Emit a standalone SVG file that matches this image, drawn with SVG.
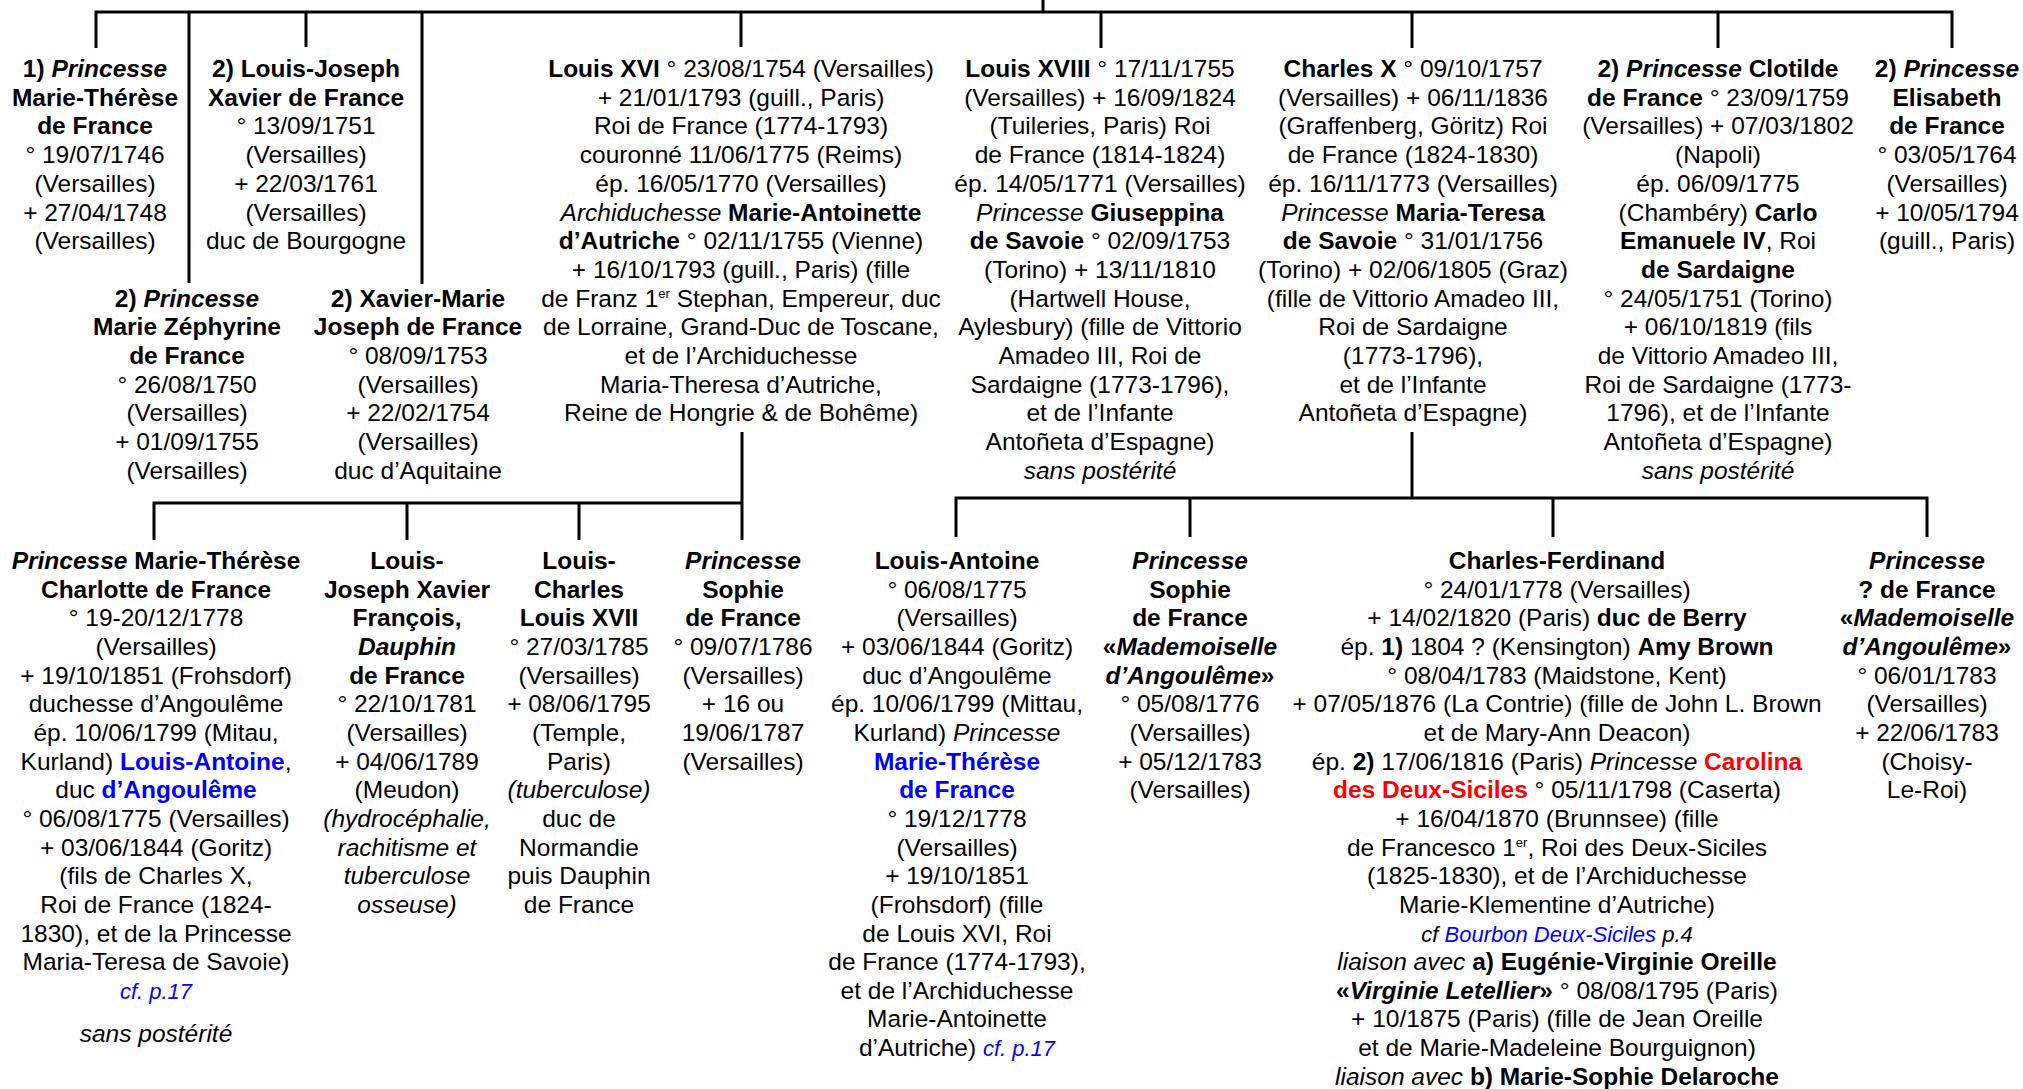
<svg xmlns="http://www.w3.org/2000/svg" width="2023" height="1089" viewBox="0 0 2023 1089">
<style>
text{font-family:"Liberation Sans",Arial,sans-serif;font-size:24.5px;text-anchor:middle;fill:#000}
.b{font-weight:bold}
.i{font-style:italic}
.bi{font-weight:bold;font-style:italic}
.blue{fill:#0000ff}
.red{fill:#ff0000}
.sm{font-size:22px}
.sup{font-size:13px}
.c path{stroke:#000;stroke-width:3;fill:none}
</style>
<rect width="2023" height="1089" fill="#fff"/>
<g id="connectors" class="c">
<path d="M1043,0V12"/>
<path d="M96,48V12H1952V48"/>
<path d="M189,12V283"/>
<path d="M306,12V47"/>
<path d="M422,12V284"/>
<path d="M741,12V47"/>
<path d="M1101,12V48"/>
<path d="M1412,12V48"/>
<path d="M1718,12V48"/>
<path d="M742,432V540"/>
<path d="M154,540V503H742"/>
<path d="M407,503V540"/>
<path d="M579,503V540"/>
<path d="M1412,432V498"/>
<path d="M956,537V498H1927V537"/>
<path d="M1190,498V537"/>
<path d="M1553,498V537"/>
</g>
<g id="n-marie-therese-1746"><text><tspan x="95" y="77"><tspan class="b">1) </tspan><tspan class="bi">Princesse</tspan></tspan><tspan x="95" y="105.7" class="b">Marie-Thérèse</tspan><tspan x="95" y="134.4" class="b">de France</tspan><tspan x="95" y="163.1">° 19/07/1746</tspan><tspan x="95" y="191.8">(Versailles)</tspan><tspan x="95" y="220.5">+ 27/04/1748</tspan><tspan x="95" y="249.2">(Versailles)</tspan></text></g>
<g id="n-louis-joseph-1751"><text><tspan x="306" y="77" class="b">2) Louis-Joseph</tspan><tspan x="306" y="105.7" class="b">Xavier de France</tspan><tspan x="306" y="134.4">° 13/09/1751</tspan><tspan x="306" y="163.1">(Versailles)</tspan><tspan x="306" y="191.8">+ 22/03/1761</tspan><tspan x="306" y="220.5">(Versailles)</tspan><tspan x="306" y="249.2">duc de Bourgogne</tspan></text></g>
<g id="n-zephyrine"><text><tspan x="187" y="306.6"><tspan class="b">2) </tspan><tspan class="bi">Princesse</tspan></tspan><tspan x="187" y="335.3" class="b">Marie Zéphyrine</tspan><tspan x="187" y="364" class="b">de France</tspan><tspan x="187" y="392.7">° 26/08/1750</tspan><tspan x="187" y="421.4">(Versailles)</tspan><tspan x="187" y="450.1">+ 01/09/1755</tspan><tspan x="187" y="478.8">(Versailles)</tspan></text></g>
<g id="n-xavier-marie"><text><tspan x="418" y="306.6" class="b">2) Xavier-Marie</tspan><tspan x="418" y="335.3" class="b">Joseph de France</tspan><tspan x="418" y="364">° 08/09/1753</tspan><tspan x="418" y="392.7">(Versailles)</tspan><tspan x="418" y="421.4">+ 22/02/1754</tspan><tspan x="418" y="450.1">(Versailles)</tspan><tspan x="418" y="478.8">duc d’Aquitaine</tspan></text></g>
<g id="n-louis-xvi"><text><tspan x="741" y="77"><tspan class="b">Louis XVI</tspan> ° 23/08/1754 (Versailles)</tspan><tspan x="741" y="105.7">+ 21/01/1793 (guill., Paris)</tspan><tspan x="741" y="134.4">Roi de France (1774-1793)</tspan><tspan x="741" y="163.1">couronné 11/06/1775 (Reims)</tspan><tspan x="741" y="191.8">ép. 16/05/1770 (Versailles)</tspan><tspan x="741" y="220.5"><tspan class="i">Archiduchesse</tspan> <tspan class="b">Marie-Antoinette</tspan></tspan><tspan x="741" y="249.2"><tspan class="b">d’Autriche</tspan> ° 02/11/1755 (Vienne)</tspan><tspan x="741" y="277.9">+ 16/10/1793 (guill., Paris) (fille</tspan><tspan x="741" y="306.6">de Franz 1<tspan class="sup" dy="-9">er</tspan><tspan dy="9"> Stephan, Empereur, duc</tspan></tspan><tspan x="741" y="335.3">de Lorraine, Grand-Duc de Toscane,</tspan><tspan x="741" y="364">et de l’Archiduchesse</tspan><tspan x="741" y="392.7">Maria-Theresa d’Autriche,</tspan><tspan x="741" y="421.4">Reine de Hongrie &amp; de Bohême)</tspan></text></g>
<g id="n-louis-xviii"><text><tspan x="1100" y="77"><tspan class="b">Louis XVIII</tspan> ° 17/11/1755</tspan><tspan x="1100" y="105.7">(Versailles) + 16/09/1824</tspan><tspan x="1100" y="134.4">(Tuileries, Paris) Roi</tspan><tspan x="1100" y="163.1">de France (1814-1824)</tspan><tspan x="1100" y="191.8">ép. 14/05/1771 (Versailles)</tspan><tspan x="1100" y="220.5"><tspan class="i">Princesse</tspan> <tspan class="b">Giuseppina</tspan></tspan><tspan x="1100" y="249.2"><tspan class="b">de Savoie</tspan> ° 02/09/1753</tspan><tspan x="1100" y="277.9">(Torino) + 13/11/1810</tspan><tspan x="1100" y="306.6">(Hartwell House,</tspan><tspan x="1100" y="335.3">Aylesbury) (fille de Vittorio</tspan><tspan x="1100" y="364">Amadeo III, Roi de</tspan><tspan x="1100" y="392.7">Sardaigne (1773-1796),</tspan><tspan x="1100" y="421.4">et de l’Infante</tspan><tspan x="1100" y="450.1">Antoñeta d’Espagne)</tspan><tspan x="1100" y="478.8" class="i">sans postérité</tspan></text></g>
<g id="n-charles-x"><text><tspan x="1413" y="77"><tspan class="b">Charles X</tspan> ° 09/10/1757</tspan><tspan x="1413" y="105.7">(Versailles) + 06/11/1836</tspan><tspan x="1413" y="134.4">(Graffenberg, Göritz) Roi</tspan><tspan x="1413" y="163.1">de France (1824-1830)</tspan><tspan x="1413" y="191.8">ép. 16/11/1773 (Versailles)</tspan><tspan x="1413" y="220.5"><tspan class="i">Princesse</tspan> <tspan class="b">Maria-Teresa</tspan></tspan><tspan x="1413" y="249.2"><tspan class="b">de Savoie</tspan> ° 31/01/1756</tspan><tspan x="1413" y="277.9">(Torino) + 02/06/1805 (Graz)</tspan><tspan x="1413" y="306.6">(fille de Vittorio Amadeo III,</tspan><tspan x="1413" y="335.3">Roi de Sardaigne</tspan><tspan x="1413" y="364">(1773-1796),</tspan><tspan x="1413" y="392.7">et de l’Infante</tspan><tspan x="1413" y="421.4">Antoñeta d’Espagne)</tspan></text></g>
<g id="n-clotilde"><text><tspan x="1718" y="77"><tspan class="b">2) </tspan><tspan class="bi">Princesse</tspan><tspan class="b"> Clotilde</tspan></tspan><tspan x="1718" y="105.7"><tspan class="b">de France</tspan> ° 23/09/1759</tspan><tspan x="1718" y="134.4">(Versailles) + 07/03/1802</tspan><tspan x="1718" y="163.1">(Napoli)</tspan><tspan x="1718" y="191.8">ép. 06/09/1775</tspan><tspan x="1718" y="220.5">(Chambéry) <tspan class="b">Carlo</tspan></tspan><tspan x="1718" y="249.2"><tspan class="b">Emanuele IV</tspan>, Roi</tspan><tspan x="1718" y="277.9" class="b">de Sardaigne</tspan><tspan x="1718" y="306.6">° 24/05/1751 (Torino)</tspan><tspan x="1718" y="335.3">+ 06/10/1819 (fils</tspan><tspan x="1718" y="364">de Vittorio Amadeo III,</tspan><tspan x="1718" y="392.7">Roi de Sardaigne (1773-</tspan><tspan x="1718" y="421.4">1796), et de l’Infante</tspan><tspan x="1718" y="450.1">Antoñeta d’Espagne)</tspan><tspan x="1718" y="478.8" class="i">sans postérité</tspan></text></g>
<g id="n-elisabeth"><text><tspan x="1947" y="77"><tspan class="b">2) </tspan><tspan class="bi">Princesse</tspan></tspan><tspan x="1947" y="105.7" class="b">Elisabeth</tspan><tspan x="1947" y="134.4" class="b">de France</tspan><tspan x="1947" y="163.1">° 03/05/1764</tspan><tspan x="1947" y="191.8">(Versailles)</tspan><tspan x="1947" y="220.5">+ 10/05/1794</tspan><tspan x="1947" y="249.2">(guill., Paris)</tspan></text></g>
<g id="n-marie-therese-charlotte"><text><tspan x="156" y="569"><tspan class="bi">Princesse</tspan> <tspan class="b">Marie-Thérèse</tspan></tspan><tspan x="156" y="597.7" class="b">Charlotte de France</tspan><tspan x="156" y="626.3">° 19-20/12/1778</tspan><tspan x="156" y="655">(Versailles)</tspan><tspan x="156" y="683.6">+ 19/10/1851 (Frohsdorf)</tspan><tspan x="156" y="712.3">duchesse d’Angoulême</tspan><tspan x="156" y="740.9">ép. 10/06/1799 (Mitau,</tspan><tspan x="156" y="769.6">Kurland) <tspan class="b blue">Louis-Antoine</tspan>,</tspan><tspan x="156" y="798.2">duc <tspan class="b blue">d’Angoulême</tspan></tspan><tspan x="156" y="826.9">° 06/08/1775 (Versailles)</tspan><tspan x="156" y="855.5">+ 03/06/1844 (Goritz)</tspan><tspan x="156" y="884.2">(fils de Charles X,</tspan><tspan x="156" y="912.8">Roi de France (1824-</tspan><tspan x="156" y="941.5">1830), et de la Princesse</tspan><tspan x="156" y="970.1">Maria-Teresa de Savoie)</tspan><tspan x="156" y="998.8" class="i sm blue">cf. p.17</tspan><tspan x="156" y="1042" class="i">sans postérité</tspan></text></g>
<g id="n-louis-joseph-1781"><text><tspan x="407" y="569" class="b">Louis-</tspan><tspan x="407" y="597.7" class="b">Joseph Xavier</tspan><tspan x="407" y="626.3" class="b">François,</tspan><tspan x="407" y="655" class="bi">Dauphin</tspan><tspan x="407" y="683.6" class="b">de France</tspan><tspan x="407" y="712.3">° 22/10/1781</tspan><tspan x="407" y="740.9">(Versailles)</tspan><tspan x="407" y="769.6">+ 04/06/1789</tspan><tspan x="407" y="798.2">(Meudon)</tspan><tspan x="407" y="826.9" class="i">(hydrocéphalie,</tspan><tspan x="407" y="855.5" class="i">rachitisme et</tspan><tspan x="407" y="884.2" class="i">tuberculose</tspan><tspan x="407" y="912.8" class="i">osseuse)</tspan></text></g>
<g id="n-louis-xvii"><text><tspan x="579" y="569" class="b">Louis-</tspan><tspan x="579" y="597.7" class="b">Charles</tspan><tspan x="579" y="626.3" class="b">Louis XVII</tspan><tspan x="579" y="655">° 27/03/1785</tspan><tspan x="579" y="683.6">(Versailles)</tspan><tspan x="579" y="712.3">+ 08/06/1795</tspan><tspan x="579" y="740.9">(Temple,</tspan><tspan x="579" y="769.6">Paris)</tspan><tspan x="579" y="798.2" class="i">(tuberculose)</tspan><tspan x="579" y="826.9">duc de</tspan><tspan x="579" y="855.5">Normandie</tspan><tspan x="579" y="884.2">puis Dauphin</tspan><tspan x="579" y="912.8">de France</tspan></text></g>
<g id="n-sophie-1786"><text><tspan x="743" y="569" class="bi">Princesse</tspan><tspan x="743" y="597.7" class="b">Sophie</tspan><tspan x="743" y="626.3" class="b">de France</tspan><tspan x="743" y="655">° 09/07/1786</tspan><tspan x="743" y="683.6">(Versailles)</tspan><tspan x="743" y="712.3">+ 16 ou</tspan><tspan x="743" y="740.9">19/06/1787</tspan><tspan x="743" y="769.6">(Versailles)</tspan></text></g>
<g id="n-louis-antoine"><text><tspan x="957" y="569" class="b">Louis-Antoine</tspan><tspan x="957" y="597.7">° 06/08/1775</tspan><tspan x="957" y="626.3">(Versailles)</tspan><tspan x="957" y="655">+ 03/06/1844 (Goritz)</tspan><tspan x="957" y="683.6">duc d’Angoulême</tspan><tspan x="957" y="712.3">ép. 10/06/1799 (Mittau,</tspan><tspan x="957" y="740.9">Kurland) <tspan class="i">Princesse</tspan></tspan><tspan x="957" y="769.6" class="b blue">Marie-Thérèse</tspan><tspan x="957" y="798.2" class="b blue">de France</tspan><tspan x="957" y="826.9">° 19/12/1778</tspan><tspan x="957" y="855.5">(Versailles)</tspan><tspan x="957" y="884.2">+ 19/10/1851</tspan><tspan x="957" y="912.8">(Frohsdorf) (fille</tspan><tspan x="957" y="941.5">de Louis XVI, Roi</tspan><tspan x="957" y="970.1">de France (1774-1793),</tspan><tspan x="957" y="998.8">et de l’Archiduchesse</tspan><tspan x="957" y="1027.4">Marie-Antoinette</tspan><tspan x="957" y="1056.1">d’Autriche)  <tspan class="i sm blue">cf. p.17</tspan></tspan></text></g>
<g id="n-sophie-1776"><text><tspan x="1190" y="569" class="bi">Princesse</tspan><tspan x="1190" y="597.7" class="b">Sophie</tspan><tspan x="1190" y="626.3" class="b">de France</tspan><tspan x="1190" y="655"><tspan class="b">«</tspan><tspan class="bi">Mademoiselle</tspan></tspan><tspan x="1190" y="683.6"><tspan class="bi">d’Angoulême</tspan><tspan class="b">»</tspan></tspan><tspan x="1190" y="712.3">° 05/08/1776</tspan><tspan x="1190" y="740.9">(Versailles)</tspan><tspan x="1190" y="769.6">+ 05/12/1783</tspan><tspan x="1190" y="798.2">(Versailles)</tspan></text></g>
<g id="n-charles-ferdinand"><text><tspan x="1557" y="569" class="b">Charles-Ferdinand</tspan><tspan x="1557" y="597.7">° 24/01/1778 (Versailles)</tspan><tspan x="1557" y="626.3">+ 14/02/1820 (Paris) <tspan class="b">duc de Berry</tspan></tspan><tspan x="1557" y="655">ép. <tspan class="b">1)</tspan> 1804 ? (Kensington) <tspan class="b">Amy Brown</tspan></tspan><tspan x="1557" y="683.6">° 08/04/1783 (Maidstone, Kent)</tspan><tspan x="1557" y="712.3">+ 07/05/1876 (La Contrie) (fille de John L. Brown</tspan><tspan x="1557" y="740.9">et de Mary-Ann Deacon)</tspan><tspan x="1557" y="769.6">ép. <tspan class="b">2)</tspan> 17/06/1816 (Paris) <tspan class="i">Princesse</tspan> <tspan class="b red">Carolina</tspan></tspan><tspan x="1557" y="798.2"><tspan class="b red">des Deux-Siciles</tspan> ° 05/11/1798 (Caserta)</tspan><tspan x="1557" y="826.9">+ 16/04/1870 (Brunnsee) (fille</tspan><tspan x="1557" y="855.5">de Francesco 1<tspan class="sup" dy="-9">er</tspan><tspan dy="9">, Roi des Deux-Siciles</tspan></tspan><tspan x="1557" y="884.2">(1825-1830), et de l’Archiduchesse</tspan><tspan x="1557" y="912.8">Marie-Klementine d’Autriche)</tspan><tspan x="1557" y="941.5" class="i sm">cf <tspan class="blue">Bourbon  Deux-Siciles</tspan> p.4</tspan><tspan x="1557" y="970.1"><tspan class="i">liaison avec</tspan> <tspan class="b">a) Eugénie-Virginie Oreille</tspan></tspan><tspan x="1557" y="998.8"><tspan class="b">«</tspan><tspan class="bi">Virginie Letellier</tspan><tspan class="b">»</tspan> ° 08/08/1795 (Paris)</tspan><tspan x="1557" y="1027.4">+ 10/1875 (Paris) (fille de Jean Oreille</tspan><tspan x="1557" y="1056.1">et de Marie-Madeleine Bourguignon)</tspan><tspan x="1557" y="1084.7"><tspan class="i">liaison avec</tspan> <tspan class="b">b) Marie-Sophie Delaroche</tspan></tspan></text></g>
<g id="n-princesse-1783"><text><tspan x="1927" y="569" class="bi">Princesse</tspan><tspan x="1927" y="597.7" class="b">? de France</tspan><tspan x="1927" y="626.3"><tspan class="b">«</tspan><tspan class="bi">Mademoiselle</tspan></tspan><tspan x="1927" y="655"><tspan class="bi">d’Angoulême</tspan><tspan class="b">»</tspan></tspan><tspan x="1927" y="683.6">° 06/01/1783</tspan><tspan x="1927" y="712.3">(Versailles)</tspan><tspan x="1927" y="740.9">+ 22/06/1783</tspan><tspan x="1927" y="769.6">(Choisy-</tspan><tspan x="1927" y="798.2">Le-Roi)</tspan></text></g>
</svg>
